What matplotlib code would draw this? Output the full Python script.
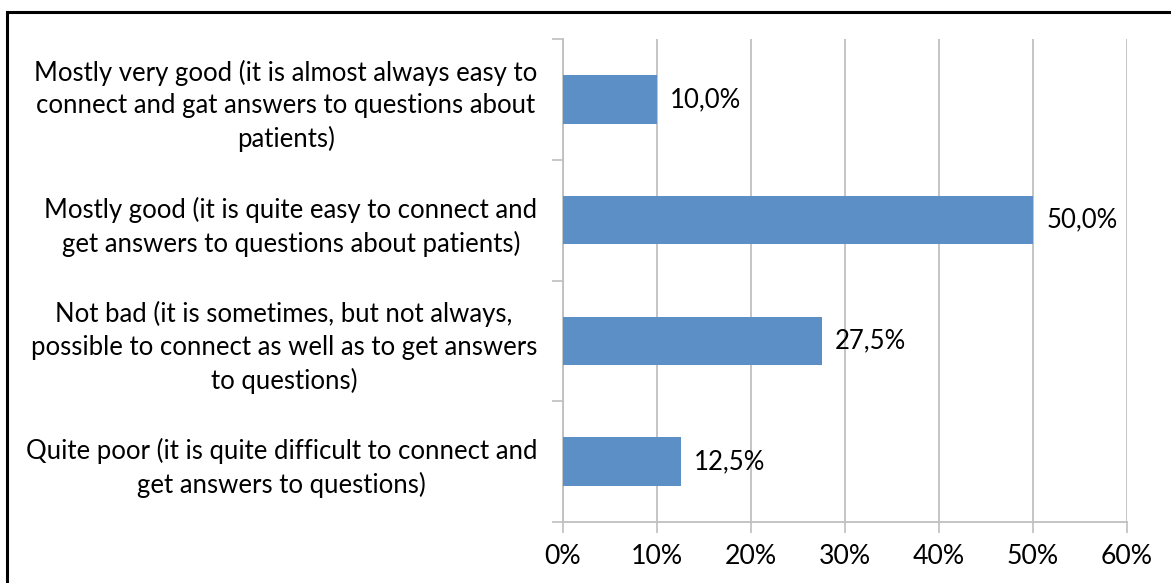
import matplotlib
matplotlib.use("Agg")
import matplotlib.pyplot as plt
from matplotlib.patches import Rectangle
from matplotlib.ticker import FixedLocator, PercentFormatter

categories = [
    "Mostly very good (it is almost always easy to\nconnect and gat answers to questions about\npatients)",
    "Mostly good (it is quite easy to connect and\nget answers to questions about patients)",
    "Not bad (it is sometimes, but not always,\npossible to connect as well as to get answers\nto questions)",
    "Quite poor (it is quite difficult to connect and\nget answers to questions)",
]
values = [10.0, 50.0, 27.5, 12.5]
value_labels = ["10,0%", "50,0%", "27,5%", "12,5%"]
x_ticks = [0, 10, 20, 30, 40, 50, 60]

FONT = "Lato"
FS = 18.5
BAR = "#5B8FC6"
GRID = "#BFBFBF"

fig = plt.figure(figsize=(11.71, 5.83), dpi=100)
ax = fig.add_axes([563 / 1171, 1 - 522 / 583, (1127 - 563) / 1171, (522 - 39) / 583])

pos = list(range(len(categories)))
ax.barh(pos, values, height=0.4, color=BAR, zorder=3)
ax.set_ylim(len(categories) - 0.5, -0.5)
ax.set_xlim(0, 60)

for p, v, lab in zip(pos, values, value_labels):
    ax.text(v + 1.4, p, lab, va="center", ha="left", fontsize=FS,
            family=FONT, color="black", zorder=4)

ax.set_xticks(x_ticks)
ax.xaxis.set_major_formatter(PercentFormatter(decimals=0))
ax.set_yticks(pos)
ax.set_yticklabels(categories, multialignment="center", linespacing=1.38)
ax.yaxis.set_minor_locator(FixedLocator([i - 0.5 for i in range(len(categories) + 1)]))
ax.tick_params(axis="y", which="major", length=0, pad=18.5)
ax.tick_params(axis="y", which="minor", length=8, color=GRID, width=1.2)
ax.tick_params(axis="x", which="major", length=8, color=GRID, width=1.2, pad=8)
for lab in ax.get_yticklabels():
    lab.set_family(FONT)
    lab.set_fontsize(FS)
for lab in ax.get_xticklabels():
    lab.set_family(FONT)
    lab.set_fontsize(19.2)

ax.grid(axis="x", color=GRID, linewidth=1.3, zorder=0)
for s in ["top", "right"]:
    ax.spines[s].set_visible(False)
for s in ["left", "bottom"]:
    ax.spines[s].set_color(GRID)
    ax.spines[s].set_linewidth(1.3)

fig.patches.append(Rectangle((7 / 1171, -0.05), 1.2, 1 - 12 / 583 + 0.05,
                             transform=fig.transFigure, fill=False,
                             edgecolor="black", linewidth=2.2, zorder=10))

fig.savefig("out.png", dpi=100)
